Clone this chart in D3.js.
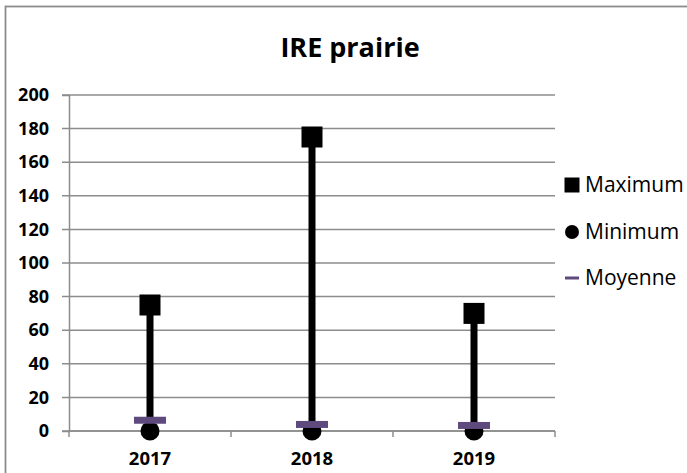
<!DOCTYPE html>
<html>
  <head>
    <meta charset="utf-8">
    <title>IRE prairie</title>
    <script src="https://d3js.org/d3.v7.min.js"></script>
    <style>
      body { margin: 0; background: #fff; }
      svg { display: block; font-family: 'Open Sans', sans-serif; }
    </style>
  </head>
  <body>
    <svg></svg>
    <script>
      //begin: data
      var years = ["2017", "2018", "2019"];
      var maxValues = [75, 175, 70];
      var minValues = [0, 0, 0];
      var meanValues = [6.4, 3.9, 3.3];
      var yTicks = [0, 20, 40, 60, 80, 100, 120, 140, 160, 180, 200];
      var legendLabels = ["Maximum", "Minimum", "Moyenne"];
      //end: data

      //begin: layout conf.
      var svgWidth = 687,
          svgHeight = 473,
          plot = {left: 69, right: 555, top: 95, bottom: 431},
          purple = "#5f4a7e",
          gridColor = "#8c8c8c";
      //end: layout conf.

      var rows = years.map(function(y, i) {
        return {year: y, max: maxValues[i], min: minValues[i], mean: meanValues[i]};
      });

      var svg = d3.select("svg")
        .attr("width", svgWidth)
        .attr("height", svgHeight);

      // outer frame
      svg.append("rect")
        .attr("x", 5.5).attr("y", 6.5)
        .attr("width", 700).attr("height", 500)
        .attr("fill", "none")
        .attr("stroke", gridColor)
        .attr("stroke-width", 1.8);

      var x = d3.scaleBand()
        .domain(years)
        .range([plot.left, plot.right]);

      var y = d3.scaleLinear()
        .domain([0, 200])
        .range([plot.bottom, plot.top]);

      // title
      svg.append("text")
        .attr("x", 350)
        .attr("y", 57)
        .attr("text-anchor", "middle")
        .style("font-size", "27px")
        .style("font-weight", "bold")
        .text("IRE prairie");

      // gridlines
      svg.append("g")
        .selectAll("line")
        .data(yTicks)
        .join("line")
          .attr("x1", plot.left - 7)
          .attr("x2", plot.right)
          .attr("y1", function(d) { return y(d); })
          .attr("y2", function(d) { return y(d); })
          .attr("stroke", gridColor)
          .attr("stroke-width", 1.5);

      // y axis
      var yAxis = svg.append("g")
        .attr("transform", "translate(" + plot.left + ",0)")
        .call(d3.axisLeft(y).tickValues(yTicks).tickSize(7).tickPadding(8));
      yAxis.select(".domain").attr("stroke", gridColor).attr("stroke-width", 1.5);
      yAxis.selectAll(".tick line").remove();
      yAxis.selectAll("text")
        .attr("x", -20)
        .style("font-size", "18px")
        .style("font-weight", "bold")
        .style("font-family", "'Open Sans', sans-serif")
        .attr("fill", "#000");

      // x axis
      var xAxis = svg.append("g")
        .attr("transform", "translate(0," + plot.bottom + ")")
        .call(d3.axisBottom(x).tickSize(0).tickPadding(21));
      xAxis.select(".domain").remove();
      xAxis.append("line")
        .attr("x1", plot.left).attr("x2", plot.right)
        .attr("stroke", gridColor).attr("stroke-width", 1.5);
      xAxis.selectAll(".boundary")
        .data(years.map(function(d) { return x(d); }).concat([plot.right]))
        .join("line")
          .attr("class", "boundary")
          .attr("x1", function(d) { return d; })
          .attr("x2", function(d) { return d; })
          .attr("y1", 0).attr("y2", 6)
          .attr("stroke", gridColor).attr("stroke-width", 1.5);
      xAxis.selectAll("text")
        .attr("dy", "0.71em")
        .style("font-size", "18.5px")
        .style("font-weight", "bold")
        .style("font-family", "'Open Sans', sans-serif")
        .attr("fill", "#000");

      var cx = function(d) { return x(d.year) + x.bandwidth() / 2; };

      var marks = svg.append("g");

      // high-low lines
      marks.selectAll(".hilo")
        .data(rows)
        .join("line")
          .attr("class", "hilo")
          .attr("x1", cx).attr("x2", cx)
          .attr("y1", function(d) { return y(d.max); })
          .attr("y2", function(d) { return y(d.min); })
          .attr("stroke", "#000")
          .attr("stroke-width", 7);

      // maximum squares
      marks.selectAll(".max")
        .data(rows)
        .join("rect")
          .attr("class", "max")
          .attr("x", function(d) { return cx(d) - 10.5; })
          .attr("y", function(d) { return y(d.max) - 10.5; })
          .attr("width", 21).attr("height", 21)
          .attr("fill", "#000");

      // minimum circles
      marks.selectAll(".min")
        .data(rows)
        .join("circle")
          .attr("class", "min")
          .attr("cx", cx)
          .attr("cy", function(d) { return y(d.min); })
          .attr("r", 9.5)
          .attr("fill", "#000");

      // mean dashes
      marks.selectAll(".mean")
        .data(rows)
        .join("rect")
          .attr("class", "mean")
          .attr("x", function(d) { return cx(d) - 16; })
          .attr("y", function(d) { return y(d.mean) - 3.5; })
          .attr("width", 32).attr("height", 7)
          .attr("fill", purple);

      // legend
      var legend = svg.append("g");
      var legendY = [185, 232, 278];
      var items = legend.selectAll("g")
        .data(legendLabels)
        .join("g")
          .attr("transform", function(d, i) { return "translate(572," + legendY[i] + ")"; });

      items.filter(function(d, i) { return i === 0; })
        .append("rect")
          .attr("x", -7.5).attr("y", -7.5)
          .attr("width", 15).attr("height", 15)
          .attr("fill", "#000");
      items.filter(function(d, i) { return i === 1; })
        .append("circle")
          .attr("r", 7)
          .attr("fill", "#000");
      items.filter(function(d, i) { return i === 2; })
        .append("rect")
          .attr("x", -7).attr("y", -1.5)
          .attr("width", 14).attr("height", 3)
          .attr("fill", purple);

      items.append("text")
        .attr("x", 13)
        .attr("dy", "0.35em")
        .style("font-size", "21px")
        .text(function(d) { return d; });
    </script>
  </body>
</html>
